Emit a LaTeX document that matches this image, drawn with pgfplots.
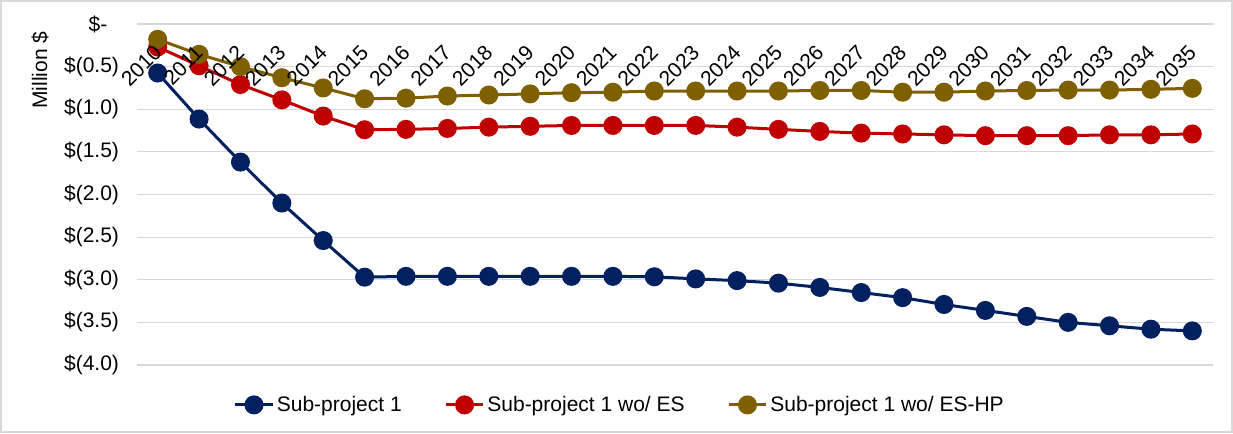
\documentclass[border=0pt]{standalone}
\usepackage{pgfplots}
\pgfplotsset{compat=1.18}
\usepackage{fontspec}
\setmainfont{Liberation Sans}
\definecolor{spblue}{HTML}{002060}
\definecolor{spred}{HTML}{C00000}
\definecolor{spgold}{HTML}{7F6000}
\definecolor{gridgrey}{HTML}{D9D9D9}
% tick labels drawn above the lines, as in the reference
\pgfplotsset{layers/labelsontop/.define layer set={
  axis background,axis grid,axis ticks,axis lines,pre main,main,
  axis tick labels,axis descriptions,axis foreground}{
  grid style={/pgfplots/on layer=axis grid},
  tick style={/pgfplots/on layer=axis ticks},
  axis line style={/pgfplots/on layer=axis lines},
  label style={/pgfplots/on layer=axis descriptions},
  legend style={/pgfplots/on layer=axis descriptions},
  ticklabel style={/pgfplots/on layer=axis tick labels},
  axis background@ style={/pgfplots/on layer=axis background},
}}

\begin{document}
\begin{tikzpicture}[font=\fontsize{15.75}{19}\selectfont]
\draw[gridgrey, line width=1.2pt] (0.6pt,0.6pt) rectangle (924.15pt,324.15pt);
\begin{axis}[
  set layers=labelsontop,
  at={(102.75pt,51pt)}, anchor=south west,
  scale only axis, width=807pt, height=255.75pt,
  xmin=2009.5, xmax=2035.5, ymin=-4, ymax=0,
  xtick={2010,...,2035},
  xticklabel pos=upper,
  /pgf/number format/1000 sep={},
  /pgf/number format/assume math mode=true,
  x tick label style={xshift=2.5pt, yshift=-16.5pt, rotate=45, anchor=east},
  ytick={-4,-3.5,-3,-2.5,-2,-1.5,-1,-0.5,0},
  yticklabels={\$(4.0),\$(3.5),\$(3.0),\$(2.5),\$(2.0),\$(1.5),\$(1.0),\$(0.5),\$-\kern0.55em},
  y tick label style={anchor=east, xshift=-10pt},
  axis line style={draw=none},
  major tick length=0pt,
  ymajorgrids, major grid style={gridgrey, line width=0.9pt},
  ylabel={Million \$},
  ylabel style={at={(axis description cs:-0.09,0.865)}, anchor=center},
  clip=false,
  every axis plot/.append style={line width=2.25pt, mark=*, mark size=6pt},
  legend columns=3,
  legend style={at={(0.449,-0.117)}, anchor=center, draw=none, fill=none,
    /tikz/every even column/.append style={column sep=30pt}},
  legend image code/.code={\draw[mark repeat=2,mark phase=2] plot coordinates {(0pt,0pt)(14pt,0pt)(28pt,0pt)};},
]
\addplot[spblue] coordinates {
(2010,-0.575) (2011,-1.115) (2012,-1.62) (2013,-2.10) (2014,-2.54)
(2015,-2.97) (2016,-2.96) (2017,-2.96) (2018,-2.96) (2019,-2.96)
(2020,-2.96) (2021,-2.96) (2022,-2.965) (2023,-2.99) (2024,-3.01)
(2025,-3.04) (2026,-3.09) (2027,-3.15) (2028,-3.21) (2029,-3.29)
(2030,-3.36) (2031,-3.43) (2032,-3.50) (2033,-3.54) (2034,-3.58)
(2035,-3.60)};
\addlegendentry{Sub-project 1}
\addplot[spred] coordinates {
(2010,-0.27) (2011,-0.49) (2012,-0.71) (2013,-0.89) (2014,-1.08)
(2015,-1.24) (2016,-1.236) (2017,-1.225) (2018,-1.21) (2019,-1.2)
(2020,-1.19) (2021,-1.19) (2022,-1.19) (2023,-1.19) (2024,-1.21)
(2025,-1.236) (2026,-1.26) (2027,-1.28) (2028,-1.29) (2029,-1.30)
(2030,-1.31) (2031,-1.31) (2032,-1.31) (2033,-1.30) (2034,-1.30)
(2035,-1.29)};
\addlegendentry{Sub-project 1 wo/ ES}
\addplot[spgold] coordinates {
(2010,-0.18) (2011,-0.356) (2012,-0.50) (2013,-0.63) (2014,-0.75)
(2015,-0.877) (2016,-0.87) (2017,-0.845) (2018,-0.833) (2019,-0.82)
(2020,-0.806) (2021,-0.80) (2022,-0.786) (2023,-0.786) (2024,-0.786)
(2025,-0.786) (2026,-0.78) (2027,-0.78) (2028,-0.80) (2029,-0.80)
(2030,-0.786) (2031,-0.78) (2032,-0.775) (2033,-0.775) (2034,-0.766)
(2035,-0.755)};
\addlegendentry{Sub-project 1 wo/ ES-HP}
\end{axis}
\end{tikzpicture}
\end{document}
